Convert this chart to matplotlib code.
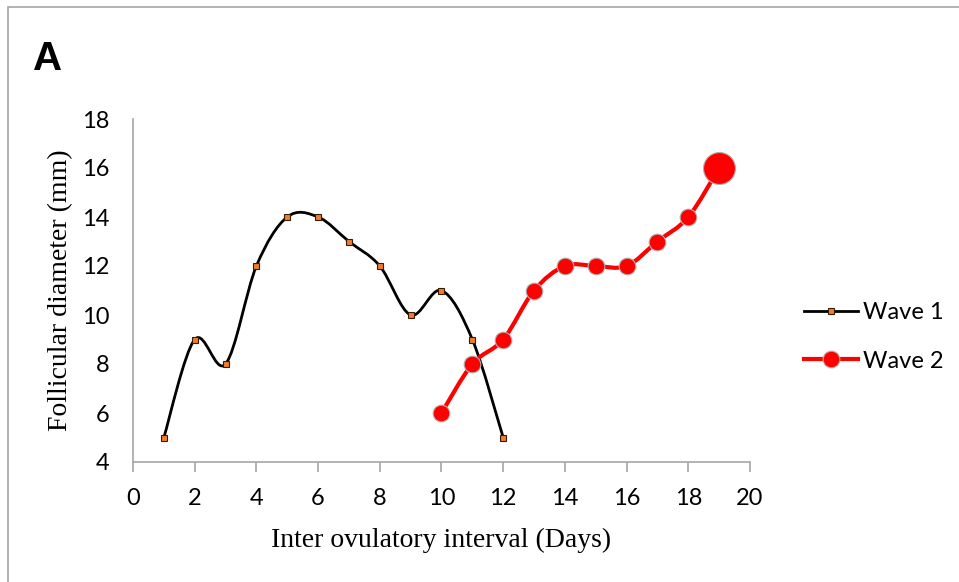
import numpy as np
import matplotlib.pyplot as plt
from matplotlib.path import Path
from matplotlib.patches import PathPatch, Rectangle
from matplotlib.lines import Line2D

# data
days_w1 = [1, 2, 3, 4, 5, 6, 7, 8, 9, 10, 11, 12]
wave1 = [5, 9, 8, 12, 14, 14, 13, 12, 10, 11, 9, 5]
days_w2 = [10, 11, 12, 13, 14, 15, 16, 17, 18, 19]
wave2 = [6, 8, 9, 11, 12, 12, 12, 13, 14, 16]

tick_font = 'Lato'
serif = 'Liberation Serif'


def smooth_path(x, y):
    # excel-like smoothed line: cubic bezier segments through the points
    x = np.asarray(x, float); y = np.asarray(y, float)
    pts = np.column_stack([x, y])
    n = len(pts)
    verts = [pts[0]]
    codes = [Path.MOVETO]
    for i in range(n - 1):
        p0 = pts[i - 1] if i > 0 else pts[i]
        p1 = pts[i]
        p2 = pts[i + 1]
        p3 = pts[i + 2] if i + 2 < n else pts[i + 1]
        c1 = p1 + (p2 - p0) / 6.0
        c2 = p2 - (p3 - p1) / 6.0
        verts += [c1, c2, p2]
        codes += [Path.CURVE4] * 3
    return Path(verts, codes)


fig = plt.figure(figsize=(9.59, 5.82), dpi=100)

# outer chart frame
fig.patches.append(Rectangle((8 / 959, -0.05), 1.1, 1 - 7 / 582 + 0.05, transform=fig.transFigure,
                             fill=False, edgecolor='#A6A6A6', linewidth=1.2))

ax = fig.add_axes([133 / 959, 1 - 462 / 582, (750 - 133) / 959, (462 - 119) / 582])

ax.add_patch(PathPatch(smooth_path(days_w1, wave1), facecolor='none', edgecolor='black', lw=2, zorder=2))
ax.plot(days_w1, wave1, ls='none', marker='s', ms=5, mfc='#ED7D31', mec='#3a1a00', mew=0.8, zorder=3)

ax.add_patch(PathPatch(smooth_path(days_w2, wave2), facecolor='none', edgecolor='#FF0000', lw=3, zorder=4))
ax.plot(days_w2[:-1], wave2[:-1], ls='none', marker='o', ms=12, mfc='#FF0000', mec='#B0B0B0', mew=0.8, zorder=5)
ax.plot(days_w2[-1:], wave2[-1:], ls='none', marker='o', ms=23, mfc='#FF0000', mec='#B0B0B0', mew=0.8, zorder=5)

ax.set_xlim(0, 20)
ax.set_ylim(4, 18)
ax.set_xticks(range(0, 21, 2))
ax.set_yticks(range(4, 19, 2))
for s in ['top', 'right']:
    ax.spines[s].set_visible(False)
for s in ['left', 'bottom']:
    ax.spines[s].set_color('#A6A6A6')
    ax.spines[s].set_linewidth(1.2)
ax.tick_params(axis='x', direction='out', length=7, color='#A6A6A6', width=1.2, pad=12)
ax.tick_params(axis='y', length=0, pad=17)
for lab in ax.get_xticklabels() + ax.get_yticklabels():
    lab.set_fontfamily(tick_font)
    lab.set_fontsize(17)

ax.set_xlabel('Inter ovulatory interval (Days)', fontfamily=serif, fontsize=20, va='center')
ax.xaxis.set_label_coords(0.5, -(540 - 462) / 343)
ax.set_ylabel('Follicular diameter (mm)', fontfamily=serif, fontsize=20, va='center')
ax.yaxis.set_label_coords((61 - 133) / 617, 0.5)

fig.text(33 / 959, 1 - 70 / 582, 'A', fontfamily='Liberation Sans', fontweight='bold', fontsize=29)

handles = [
    Line2D([], [], color='black', lw=2, marker='s', ms=5, mfc='#ED7D31', mec='#3a1a00', mew=0.8),
    Line2D([], [], color='#FF0000', lw=3, marker='o', ms=12, mfc='#FF0000', mec='#B0B0B0', mew=0.8),
]
fig.legend(handles, ['Wave 1', 'Wave 2'], loc='center left', bbox_to_anchor=(804 / 959, 1 - 337 / 582),
           frameon=False, prop={'family': tick_font, 'size': 17}, handlelength=2.3, handletextpad=0.2,
           labelspacing=1.15, borderpad=0, borderaxespad=0)

fig.savefig('out.png', dpi=100)
